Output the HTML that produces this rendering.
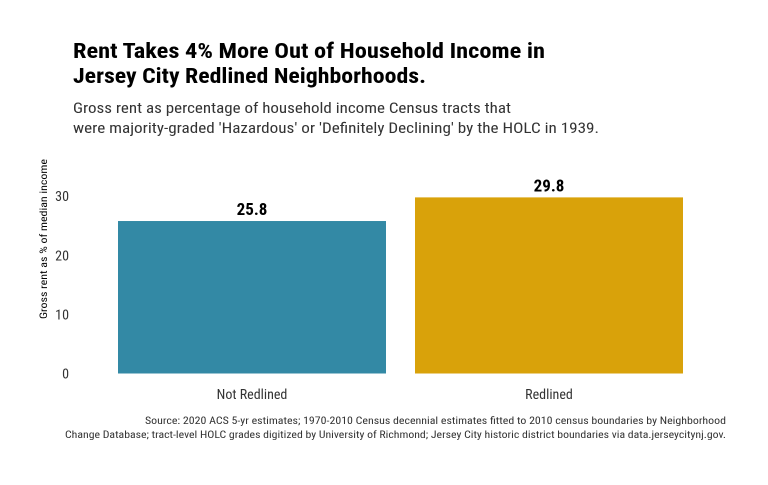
<!DOCTYPE html>
<html><head><meta charset="utf-8"><style>
body{margin:0;background:#fff;}
svg text{font-family:"Roboto Condensed","Liberation Sans Narrow","Liberation Sans",sans-serif;}
</style></head><body>
<svg id="chart" width="768" height="480" viewBox="0 0 768 480" xmlns="http://www.w3.org/2000/svg">
<rect width="768" height="480" fill="#fff"/>
<text x="73" y="58" font-size="21" font-weight="bold" fill="#000" textLength="472" lengthAdjust="spacingAndGlyphs">Rent Takes 4% More Out of Household Income in</text>
<text x="73" y="83" font-size="21" font-weight="bold" fill="#000" textLength="353" lengthAdjust="spacingAndGlyphs">Jersey City Redlined Neighborhoods.</text>
<text x="73" y="113" font-size="15" fill="#333" textLength="438" lengthAdjust="spacingAndGlyphs">Gross rent as percentage of household income Census tracts that</text>
<text x="73" y="133" font-size="15" fill="#333" textLength="526" lengthAdjust="spacingAndGlyphs">were majority-graded 'Hazardous' or 'Definitely Declining' by the HOLC in 1939.</text>
<text transform="translate(47,239) rotate(-90)" text-anchor="middle" font-size="10" fill="#000" textLength="160" lengthAdjust="spacingAndGlyphs">Gross rent as % of median income</text>
<g id="yticks"></g>
<g id="bars"></g>
<text x="726" y="424" text-anchor="end" font-size="10.5" fill="#333" textLength="581" lengthAdjust="spacingAndGlyphs">Source: 2020 ACS 5-yr estimates; 1970-2010 Census decennial estimates fitted to 2010 census boundaries by Neighborhood</text>
<text x="726" y="438" text-anchor="end" font-size="10.5" fill="#333" textLength="661" lengthAdjust="spacingAndGlyphs">Change Database; tract-level HOLC grades digitized by University of Richmond; Jersey City historic district boundaries via data.jerseycitynj.gov.</text>
</svg>
<script>
const categories=["Not Redlined","Redlined"];
const values=[25.8,29.8];
const colors=["#3389a5","#d9a20a"];
const yTicks=[0,10,20,30];
const NS="http://www.w3.org/2000/svg";
const y0=373.5, ppu=5.91;
function yScale(v){return y0-v*ppu;}
const barX=[118,415], barW=268;
function xScale(i){return 118+i*297;}
const yt=document.getElementById('yticks');
yTicks.forEach(t=>{
  const e=document.createElementNS(NS,'text');
  
  
  e.setAttribute('x',69);e.setAttribute('y',yScale(t)+5);
  e.setAttribute('text-anchor','end');e.setAttribute('font-size','14');e.setAttribute('fill','#333');
  e.textContent=t;yt.appendChild(e);
});
const g=document.getElementById('bars');
categories.forEach((c,i)=>{
  const x=xScale(i);
  const r=document.createElementNS(NS,'rect');
  
  
  r.setAttribute('x',x);r.setAttribute('y',yScale(values[i]));
  r.setAttribute('width',barW);r.setAttribute('height',y0-yScale(values[i]));
  r.setAttribute('fill',colors[i]);g.appendChild(r);
  const l=document.createElementNS(NS,'text');
  
  
  l.setAttribute('x',x+barW/2);l.setAttribute('y',yScale(values[i])-6);
  l.setAttribute('text-anchor','middle');l.setAttribute('font-size','17');l.setAttribute('font-weight','bold');
  l.textContent=values[i].toFixed(1);g.appendChild(l);
  const t=document.createElementNS(NS,'text');
  
  
  t.setAttribute('x',x+barW/2);t.setAttribute('y',399);
  t.setAttribute('text-anchor','middle');t.setAttribute('font-size','14');t.setAttribute('fill','#333');
  t.textContent=c;g.appendChild(t);
});
</script>
</body></html>
